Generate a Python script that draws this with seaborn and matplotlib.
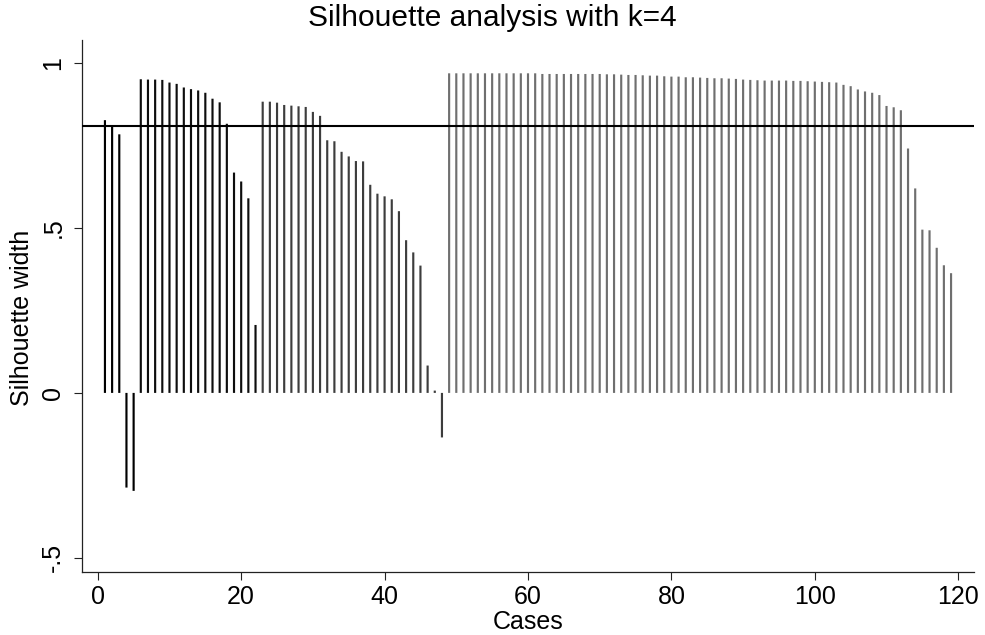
import numpy as np
import pandas as pd
import matplotlib
matplotlib.use("Agg")
import matplotlib.pyplot as plt
import seaborn as sns

# ---- data ----
cluster_names = ["1", "2", "3", "4"]
cluster_sizes = [5, 17, 26, 71]
cluster_colors = ["#000000", "#0d0d0d", "#3d3d3d", "#6f6f6f"]

sil_c1 = [0.827, 0.810, 0.784, -0.287, -0.297]
sil_c2 = [0.951, 0.950, 0.950, 0.949, 0.941, 0.937, 0.926, 0.921, 0.917,
          0.910, 0.892, 0.881, 0.816, 0.668, 0.641, 0.590, 0.206]
sil_c3 = [0.883, 0.883, 0.880, 0.873, 0.871, 0.869, 0.867, 0.852, 0.840,
          0.766, 0.763, 0.731, 0.717, 0.703, 0.702, 0.631, 0.604, 0.596,
          0.587, 0.551, 0.463, 0.426, 0.386, 0.083, 0.007, -0.135]
sil_c4 = [0.969, 0.969, 0.969, 0.969, 0.969, 0.969, 0.969, 0.969, 0.969,
          0.969, 0.969, 0.969, 0.969,
          0.967, 0.967, 0.967, 0.967, 0.967, 0.967, 0.967, 0.967, 0.967,
          0.966, 0.966, 0.965, 0.964, 0.964, 0.963, 0.962, 0.962, 0.960,
          0.959, 0.959, 0.957, 0.957, 0.956, 0.955, 0.954, 0.954, 0.953,
          0.952, 0.950, 0.949, 0.948, 0.947, 0.947, 0.947, 0.947, 0.946,
          0.946, 0.945, 0.944, 0.943, 0.942, 0.941, 0.934, 0.930, 0.920,
          0.914, 0.910, 0.903, 0.870, 0.866, 0.857, 0.741, 0.620, 0.495,
          0.493, 0.440, 0.387, 0.363]
ref_line = 0.81

x_ticks = [0, 20, 40, 60, 80, 100, 120]
y_ticks = [-0.5, 0, 0.5, 1]
y_tick_labels = ["-.5", "0", ".5", "1"]

title = "Silhouette analysis with k=4"
x_label = "Cases"
y_label = "Silhouette width"

# ---- build table ----
values = sil_c1 + sil_c2 + sil_c3 + sil_c4
clusters = np.repeat(cluster_names, cluster_sizes)
cases = np.arange(1, len(values) + 1)
df = pd.DataFrame({"case": cases, "sil": values, "cluster": clusters})

sns.set_theme(style="white")
plt.rcParams["font.family"] = ["Liberation Sans", "DejaVu Sans"]
plt.rcParams["text.color"] = "black"
plt.rcParams["axes.labelcolor"] = "black"
plt.rcParams["xtick.color"] = "black"
plt.rcParams["ytick.color"] = "black"

W, H = 985, 635
fig = plt.figure(figsize=(W / 100, H / 100), dpi=100)
ax = fig.add_axes([82 / W, (H - 572) / H, (974 - 82) / W, (572 - 40) / H])

sns.barplot(data=df, x="case", y="sil", hue="cluster", native_scale=True,
            dodge=False, width=0.3, palette=cluster_colors, errorbar=None,
            linewidth=0, legend=False, ax=ax)
for p in ax.patches:
    p.set_snap(False)

ax.axhline(ref_line, color="black", lw=1.5, zorder=5)

ax.set_xlim(-2.2, 122.2)
ax.set_ylim(-0.543, 1.07)

ax.set_xticks(x_ticks)
ax.set_xticklabels([str(t) for t in x_ticks], fontsize=18)
ax.set_yticks(y_ticks)
ax.set_yticklabels(y_tick_labels, fontsize=18, rotation=90, va="center")

ax.tick_params(axis="x", which="major", direction="out", length=6,
               width=0.8, color="#222222", bottom=True, pad=3)
ax.tick_params(axis="y", which="major", direction="out", length=6,
               width=0.8, color="#222222", left=True, pad=6)

for s in ["top", "right"]:
    ax.spines[s].set_visible(False)
for s in ["left", "bottom"]:
    ax.spines[s].set_color("#222222")
    ax.spines[s].set_linewidth(0.9)

ax.set_xlabel("")
ax.set_ylabel("")
fig.text(528 / W, 1 - 622 / H, x_label, ha="center", va="center", fontsize=18)
fig.text(22 / W, 1 - 318 / H, y_label, ha="center", va="center",
         fontsize=18, rotation=90)
fig.text(492 / W, 1 - 18 / H, title, ha="center", va="center", fontsize=21.5)

fig.savefig("out.png", dpi=100)
